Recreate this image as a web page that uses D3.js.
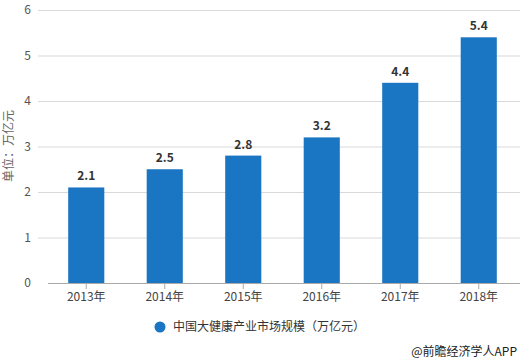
<!DOCTYPE html>
<html>
<head>
<meta charset="utf-8">
<title>中国大健康产业市场规模</title>
<style>
  body { margin: 0; background: #fff; }
  text { font-family: "Noto Sans CJK SC", "Noto Sans", sans-serif; }
</style>
</head>
<body>
<script src="https://d3js.org/d3.v7.min.js"></script>
<script>
  var years  = ["2013年", "2014年", "2015年", "2016年", "2017年", "2018年"];
  var values = [2.1, 2.5, 2.8, 3.2, 4.4, 5.4];
  var yTicks = [0, 1, 2, 3, 4, 5, 6];
  var seriesName = "中国大健康产业市场规模（万亿元）";

  var width = 525, height = 364;

  var svg = d3.select("body").append("svg")
      .attr("width", width)
      .attr("height", height);

  var x = d3.scaleBand().domain(years).range([47, 518]).paddingInner(0.54).paddingOuter(0.27);
  var y = d3.scaleLinear().domain([0, 6]).range([283, 10]);

  // gridlines
  svg.append("g").selectAll("line")
      .data(yTicks.filter(function(d){ return d > 0; }))
      .enter().append("line")
      .attr("x1", 38).attr("x2", 520)
      .attr("y1", function(d){ return y(d) + 0.5; })
      .attr("y2", function(d){ return y(d) + 0.5; })
      .attr("stroke", "#d9d9d9");

  // y labels
  svg.append("g").selectAll("text")
      .data(yTicks)
      .enter().append("text")
      .attr("x", 31)
      .attr("y", function(d){ return y(d); })
      .attr("dy", "0.35em")
      .attr("text-anchor", "end")
      .attr("font-size", 12)
      .attr("fill", "#555")
      .text(function(d){ return d; });

  svg.append("text")
      .attr("transform", "translate(13,146) rotate(-90)")
      .attr("text-anchor", "middle")
      .attr("font-size", 12)
      .attr("fill", "#666")
      .text("单位：万亿元");

  // bars
  svg.append("g").selectAll("rect")
      .data(values)
      .enter().append("rect")
      .attr("x", function(d, i){ return x(years[i]); })
      .attr("y", function(d){ return y(d); })
      .attr("width", x.bandwidth())
      .attr("height", function(d){ return y(0) - y(d); })
      .attr("fill", "#1a75c2");

  svg.append("g").selectAll("text")
      .data(values)
      .enter().append("text")
      .attr("x", function(d, i){ return x(years[i]) + x.bandwidth() / 2; })
      .attr("y", function(d){ return y(d) - 7; })
      .attr("text-anchor", "middle")
      .attr("font-size", 12)
      .attr("font-weight", "bold")
      .attr("fill", "#333")
      .text(function(d){ return d.toFixed(1); });

  // x axis
  var xAxis = svg.append("g")
      .attr("transform", "translate(0," + y(0) + ")")
      .call(d3.axisBottom(x).tickSize(6).tickSizeOuter(0));
  xAxis.select(".domain").attr("stroke", "#aaa").attr("d", "M48,0.5H520");
  xAxis.selectAll(".tick line").attr("stroke", "#aaa");
  xAxis.selectAll(".tick text")
      .attr("y", 9)
      .attr("font-size", 12)
      .attr("fill", "#444")
      .style("font-family", "'Noto Sans CJK SC', sans-serif");

  // legend
  var legend = svg.append("g").attr("transform", "translate(160,327)");
  legend.append("circle").attr("r", 5.5).attr("fill", "#1a75c2");
  legend.append("text")
      .attr("x", 13).attr("dy", "0.35em")
      .attr("font-size", 12)
      .attr("fill", "#333")
      .text(seriesName);

  svg.append("text")
      .attr("x", 517).attr("y", 352)
      .attr("dy", "0.35em")
      .attr("text-anchor", "end")
      .attr("font-size", 12)
      .attr("fill", "#222")
      .text("@前瞻经济学人APP");
</script>
</body>
</html>
